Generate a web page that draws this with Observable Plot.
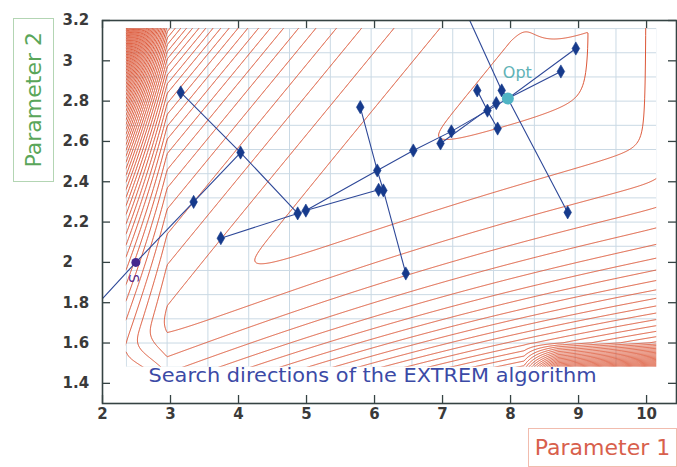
<!DOCTYPE html>
<html><head><meta charset="utf-8">
<script src="https://cdn.jsdelivr.net/npm/d3@7"></script>
<script src="https://cdn.jsdelivr.net/npm/@observablehq/plot@0.6"></script>
<style>
html,body{margin:0;padding:0;background:#fff;}
#wrap{position:relative;width:677px;height:467px;overflow:hidden;font-family:"DejaVu Sans",sans-serif;}
#chart{position:absolute;left:0;top:0;}
.axis-title{position:absolute;box-sizing:border-box;display:flex;align-items:center;justify-content:center;}
#p2{left:13px;top:18px;width:41px;height:164px;border:1px solid #b3d5b3;}
#p2 span{writing-mode:vertical-rl;transform:rotate(180deg);font-size:22px;color:#5aa65a;white-space:nowrap;}
#p1{left:528px;top:428px;width:149px;height:39px;border:1px solid #f1bcae;}
#p1 span{font-size:22px;color:#d8604c;white-space:nowrap;}
</style></head>
<body>
<div id="wrap"><div id="chart"></div>
<div id="p2" class="axis-title"><span>Parameter 2</span></div>
<div id="p1" class="axis-title"><span>Parameter 1</span></div>
</div>
<script>
// ---------- data ----------
const xTicks = [2, 3, 4, 5, 6, 7, 8, 9, 10];
const yTicks = [1.4, 1.6, 1.8, 2, 2.2, 2.4, 2.6, 2.8, 3, 3.2];
const gridX = [2.35, 2.95, 3.55, 4.15, 4.75, 5.35, 5.95, 6.55, 7.15, 7.75, 8.35, 8.95, 9.55, 10.15];
const gridY = [1.48, 1.60, 1.72, 1.84, 1.96, 2.08, 2.20, 2.32, 2.44, 2.56, 2.68, 2.80, 2.92, 3.04, 3.16];

// each line search of the EXTREM run, as [parameter 1, parameter 2] points
const searchLines = [
  [[2.00, 1.82], [2.49, 2.00], [3.34, 2.30], [4.03, 2.545]],
  [[3.15, 2.843], [4.03, 2.545], [4.87, 2.243]],
  [[3.74, 2.12], [4.87, 2.243], [4.99, 2.257], [6.06, 2.36]],
  [[4.99, 2.257], [6.04, 2.456], [6.57, 2.555], [7.13, 2.65], [7.66, 2.753], [7.96, 2.813]],
  [[6.97, 2.59], [7.79, 2.79]],
  [[5.79, 2.77], [6.04, 2.456], [6.13, 2.357], [6.46, 1.945]],
  [[7.51, 2.853], [7.66, 2.753], [7.81, 2.664]],
  [[7.40, 3.20], [7.87, 2.853], [7.96, 2.813], [8.84, 2.248]],
  [[7.96, 2.813], [8.96, 3.061]],
  [[7.96, 2.813], [8.74, 2.947]]
];
const probeX = [3.15, 4.03, 3.34, 3.74, 4.87, 4.99, 5.79, 6.04, 6.06, 6.13, 6.46, 6.57, 6.97, 7.13, 7.51, 7.66, 7.79, 7.81, 7.87, 8.74, 8.96, 8.84];
const probeY = [2.843, 2.545, 2.30, 2.12, 2.243, 2.257, 2.77, 2.456, 2.36, 2.357, 1.945, 2.555, 2.59, 2.65, 2.853, 2.753, 2.79, 2.664, 2.853, 2.947, 3.061, 2.248];
const startPoint = {x: 2.49, y: 2.00, label: "S", lx: 2.46, ly: 1.92};
const optPoint = {x: 7.96, y: 2.813, label: "Opt", lx: 8.10, ly: 2.942};
const caption = "Search directions of the EXTREM algorithm";

// objective function (contour field) parameters
const VALLEY = {x: 8, y: 2.88, slope: 0.23};
const WEDGE = {up: 0.18, down0: 0.107, downSlope: 0.004, round: 1, soft: 0.04};
const BOWL = {k: 1.0, cross: 16, eps: 1.0};
const LEVEL = {d0: 1.4, tau: 3.75};
const EDGE = {colX: 2.95, colW: 0.6, kCol: 0.8, rowY: 1.60, rowH: 0.12, kRow: 0.6, rowFromX: 8.2, rowFade: 0.5};
const contourLevels = d3.range(1, 111);

// ---------- layout ----------
const X_DOMAIN = [2, 10.44], Y_DOMAIN = [1.3, 3.2];
const AREA = {x1: 2.35, x2: 10.15, y1: 1.48, y2: 3.16};
const W = 677, H = 467, M = {top: 20, right: 1, bottom: 64, left: 102};
const innerW = W - M.left - M.right, innerH = H - M.top - M.bottom, tickLen = 8;
const frameColor = "#354343";

const clamp = v => Math.max(0, Math.min(1, v));
function field(x, y) {
  const u = x - VALLEY.x;
  const w = y - VALLEY.y - VALLEY.slope * u;
  const ws = Math.sqrt(w * w + WEDGE.soft * WEDGE.soft);
  const sig = 1 / (1 + Math.exp(-w / WEDGE.soft));
  const wUp = ws / WEDGE.up;
  const t = ws / (WEDGE.down0 + WEDGE.downSlope * u);
  const wDown = t * t / (t + WEDGE.round);
  const wn = sig * wUp + (1 - sig) * wDown;
  const dV = wn - u;
  const up = Math.max(0, u);
  const dE = BOWL.k * up * up + BOWL.cross * up * Math.max(0, w);
  const d = (dV + dE + Math.sqrt((dV - dE) ** 2 + BOWL.eps * BOWL.eps)) / 2;
  const f = Math.exp((d - LEVEL.d0) / LEVEL.tau);
  const tx = clamp((EDGE.colX - x) / EDGE.colW);
  const ty = clamp((EDGE.rowY - y) / EDGE.rowH) * clamp((x - EDGE.rowFromX) / EDGE.rowFade);
  return f * (1 + EDGE.kCol * tx + EDGE.kRow * ty);
}

const pathRows = searchLines.flatMap((pts, i) => pts.map(([x, y]) => ({x, y, line: i})));
const probes = probeX.map((x, i) => ({x, y: probeY[i]}));
const masks = [
  {x1: X_DOMAIN[0], x2: AREA.x1, y1: Y_DOMAIN[0], y2: Y_DOMAIN[1]},
  {x1: AREA.x2, x2: X_DOMAIN[1], y1: Y_DOMAIN[0], y2: Y_DOMAIN[1]},
  {x1: X_DOMAIN[0], x2: X_DOMAIN[1], y1: AREA.y2, y2: Y_DOMAIN[1]},
  {x1: X_DOMAIN[0], x2: X_DOMAIN[1], y1: Y_DOMAIN[0], y2: AREA.y1}
];

const plot = Plot.plot({
  width: W, height: H,
  marginTop: M.top, marginRight: M.right, marginBottom: M.bottom, marginLeft: M.left,
  x: {domain: X_DOMAIN, axis: null},
  y: {domain: Y_DOMAIN, axis: null},
  style: {fontFamily: "DejaVu Sans", background: "white", overflow: "visible"},
  marks: [
    Plot.ruleX(gridX, {x: d => d, y1: AREA.y1, y2: AREA.y2, stroke: "#cad9e4", strokeWidth: 1}),
    Plot.ruleY(gridY, {y: d => d, x1: AREA.x1, x2: AREA.x2, stroke: "#cad9e4", strokeWidth: 1}),
    Plot.contour({value: field, x1: 2.30, x2: 10.20, y1: 1.45, y2: 3.19,
      thresholds: contourLevels, fill: "none", stroke: "#dc5434", strokeWidth: 1, pixelSize: 1}),
    Plot.rect(masks, {x1: "x1", x2: "x2", y1: "y1", y2: "y2", fill: "white"}),
    Plot.line(pathRows, {x: "x", y: "y", z: "line", stroke: "#2e4898", strokeWidth: 1.1}),
    Plot.dot(probes, {x: "x", y: "y", symbol: "diamond", r: 4, fill: "#163a8c", stroke: "#163a8c", strokeWidth: 0.6}),
    Plot.dot([startPoint], {x: "x", y: "y", r: 4.5, fill: "#45288e"}),
    Plot.dot([optPoint], {x: "x", y: "y", r: 6, fill: "#4fb4c4"}),
    Plot.text([optPoint], {x: "lx", y: "ly", text: "label", fill: "#5fb2b6", fontSize: 16}),
    Plot.text([startPoint], {x: "lx", y: "ly", text: "label", fill: "#5b2d8e", fontSize: 14, rotate: 90}),
    Plot.text([caption], {text: d => d, frameAnchor: "bottom-left", dx: 46, dy: -22, textAnchor: "start", fill: "#3b4aa6", fontSize: 20}),
    Plot.frame({stroke: frameColor, strokeWidth: 1.6}),
    Plot.tickX(xTicks, {x: d => d, insetTop: innerH - tickLen, stroke: frameColor, strokeWidth: 1.3}),
    Plot.tickX(xTicks, {x: d => d, insetBottom: innerH - tickLen, stroke: frameColor, strokeWidth: 1.3}),
    Plot.tickY(yTicks, {y: d => d, insetRight: innerW - tickLen, stroke: frameColor, strokeWidth: 1.3}),
    Plot.tickY(yTicks, {y: d => d, insetLeft: innerW - tickLen, stroke: frameColor, strokeWidth: 1.3}),
    Plot.text(xTicks, {x: d => d, text: d => String(d), frameAnchor: "bottom", dy: 15, fontWeight: "bold", fontSize: 15, fill: "#3a3a3a"}),
    Plot.text(yTicks, {y: d => d, text: d => String(d), frameAnchor: "left", dx: -40, textAnchor: "start", fontWeight: "bold", fontSize: 15, fill: "#3a3a3a"})
  ]
});
document.getElementById("chart").appendChild(plot);
for (const t of plot.querySelectorAll("text")) {
  if (t.textContent === caption) {
    t.setAttribute("textLength", "448");
    t.setAttribute("lengthAdjust", "spacingAndGlyphs");
  }
}
</script>
</body></html>
